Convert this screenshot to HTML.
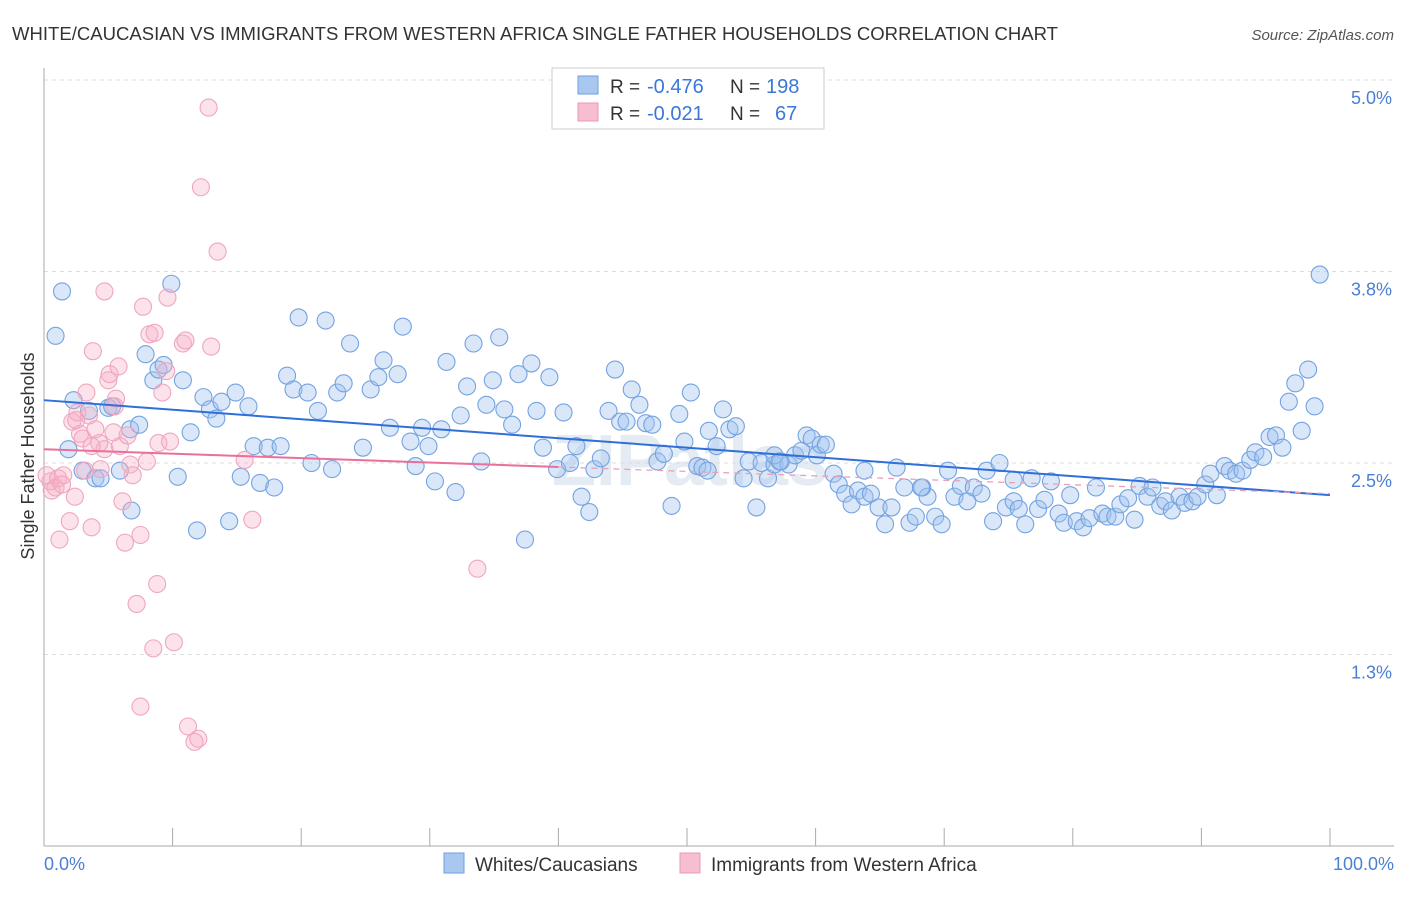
<!DOCTYPE html>
<html><head><meta charset="utf-8"><style>
body{margin:0;background:#fff;font-family:"Liberation Sans",sans-serif}
svg text{font-family:"Liberation Sans",sans-serif}
</style></head><body>
<svg width="1406" height="892">
<text x="12" y="40" font-size="18" fill="#333" textLength="1046" lengthAdjust="spacingAndGlyphs">WHITE/CAUCASIAN VS IMMIGRANTS FROM WESTERN AFRICA SINGLE FATHER HOUSEHOLDS CORRELATION CHART</text>
<text x="1394" y="40" font-size="15" fill="#555" text-anchor="end" font-style="italic">Source: ZipAtlas.com</text>
<text x="690" y="485" font-size="72" fill="#e4ebf3" text-anchor="middle" font-weight="bold">ZIPatlas</text>
<g id="grid"></g><g id="axes"></g><g id="pts"></g><g id="lines"></g>
<text transform="translate(34,456) rotate(-90)" font-size="18" fill="#333" text-anchor="middle">Single Father Households</text>
<text x="44" y="870" font-size="18" fill="#4a7fd4">0.0%</text>
<text x="1394" y="870" font-size="18" fill="#4a7fd4" text-anchor="end">100.0%</text>
<g>
<rect x="552" y="68" width="272" height="61" fill="#fff" stroke="#ccc"/>
<rect x="578" y="76" width="20" height="18" fill="#a9c8f0" stroke="#6f9fdc"/>
<rect x="578" y="103" width="20" height="18" fill="#f7bdd0" stroke="#ec98b4"/>
<text x="610" y="93" font-size="19" fill="#333">R =</text>
<text x="647" y="93" font-size="20" fill="#3a78d8">-0.476</text>
<text x="730" y="93" font-size="19" fill="#333">N =</text>
<text x="766" y="93" font-size="20" fill="#3a78d8">198</text>
<text x="610" y="120" font-size="19" fill="#333">R =</text>
<text x="647" y="120" font-size="20" fill="#3a78d8">-0.021</text>
<text x="730" y="120" font-size="19" fill="#333">N =</text>
<text x="775" y="120" font-size="20" fill="#3a78d8">67</text>
</g>
<g>
<rect x="444" y="853" width="20" height="20" fill="#a9c8f0" stroke="#6f9fdc"/>
<text x="475" y="871" font-size="19" fill="#333">Whites/Caucasians</text>
<rect x="680" y="853" width="20" height="20" fill="#f7bdd0" stroke="#ec98b4"/>
<text x="711" y="871" font-size="19" fill="#333">Immigrants from Western Africa</text>
</g>
</svg>
<script>
const yTicks=[5.0,3.75,2.5,1.25];
const yTickLabels=["5.0%","3.8%","2.5%","1.3%"];
const xTicks=[0,10,20,30,40,50,60,70,80,90,100];
const blueX=[1.4,0.9,2.3,3.5,1.9,3.0,4.0,4.4,5.0,5.3,6.7,7.4,6.8,5.9,7.9,8.5,8.9,9.3,9.9,10.8,10.4,11.4,11.9,12.4,12.9,13.4,13.8,14.4,14.9,15.3,15.9,16.3,16.8,17.4,17.9,18.4,18.9,19.4,19.8,20.5,20.8,21.3,21.9,22.4,22.8,23.3,23.8,24.8,25.4,26.0,26.4,26.9,27.5,27.9,28.5,28.9,29.4,29.9,30.4,30.9,31.3,32.0,32.4,32.9,33.4,34.0,34.4,34.9,35.4,35.8,36.4,36.9,37.4,37.9,38.3,38.8,39.3,39.9,40.4,40.9,41.4,41.8,42.4,42.8,43.3,43.9,44.4,44.8,45.3,45.7,46.3,46.8,47.3,47.7,48.2,48.8,49.4,49.8,50.3,50.8,51.2,51.7,52.3,52.8,53.3,53.8,54.4,54.8,55.4,55.8,56.3,56.8,57.3,57.9,58.4,58.9,59.3,59.7,60.1,60.4,60.8,61.4,61.8,62.3,62.8,63.3,63.8,64.3,64.9,65.4,65.9,66.3,66.9,67.3,67.8,68.3,68.7,69.3,69.8,70.3,70.8,71.3,71.8,72.3,72.9,73.3,73.8,74.3,74.8,75.4,75.8,76.3,76.8,77.3,77.8,78.3,78.9,79.3,79.8,80.3,80.8,81.3,81.8,82.3,82.7,83.3,83.7,84.3,84.8,85.2,85.8,86.2,86.8,87.2,87.7,88.3,88.7,89.3,89.7,90.3,90.7,91.2,91.8,92.2,92.7,93.2,93.8,94.2,94.8,95.3,95.8,96.3,96.8,97.3,97.8,98.3,98.8,99.2,56.8,57.2,63.8,75.4,68.2,51.6];
const blueY=[3.62,3.33,2.91,2.84,2.59,2.45,2.40,2.40,2.86,2.87,2.72,2.75,2.19,2.45,3.21,3.04,3.11,3.14,3.67,3.04,2.41,2.70,2.06,2.93,2.85,2.79,2.90,2.12,2.96,2.41,2.87,2.61,2.37,2.60,2.34,2.61,3.07,2.98,3.45,2.96,2.50,2.84,3.43,2.46,2.96,3.02,3.28,2.60,2.98,3.06,3.17,2.73,3.08,3.39,2.64,2.48,2.73,2.61,2.38,2.72,3.16,2.31,2.81,3.00,3.28,2.51,2.88,3.04,3.32,2.85,2.75,3.08,2.00,3.15,2.84,2.60,3.06,2.46,2.83,2.50,2.61,2.28,2.18,2.46,2.53,2.84,3.11,2.77,2.77,2.98,2.88,2.76,2.75,2.51,2.56,2.22,2.82,2.64,2.96,2.48,2.47,2.71,2.61,2.85,2.72,2.74,2.40,2.51,2.21,2.50,2.40,2.49,2.51,2.49,2.55,2.58,2.68,2.66,2.55,2.62,2.62,2.43,2.36,2.30,2.23,2.32,2.28,2.30,2.21,2.10,2.21,2.47,2.34,2.11,2.15,2.34,2.28,2.15,2.10,2.45,2.28,2.35,2.25,2.34,2.30,2.45,2.12,2.50,2.21,2.25,2.20,2.10,2.40,2.20,2.26,2.38,2.17,2.11,2.29,2.12,2.08,2.14,2.34,2.17,2.15,2.15,2.23,2.27,2.13,2.35,2.28,2.34,2.22,2.25,2.19,2.28,2.24,2.25,2.28,2.36,2.43,2.29,2.48,2.45,2.43,2.45,2.52,2.57,2.54,2.67,2.68,2.60,2.90,3.02,2.71,3.11,2.87,3.73,2.55,2.51,2.45,2.39,2.34,2.45];
const pinkX=[0.2,0.6,0.5,0.9,1.1,1.2,1.5,2.0,2.2,2.4,2.6,2.8,3.0,3.3,3.5,3.7,3.8,4.0,4.3,4.4,4.7,5.0,5.1,5.4,5.6,5.8,5.9,6.1,6.3,6.5,6.7,6.9,7.2,7.5,7.5,7.7,8.0,8.2,8.5,8.6,8.8,8.9,9.2,9.5,9.6,9.8,10.1,10.8,11.0,11.2,11.7,12.0,12.2,12.8,13.0,13.5,15.6,16.2,33.7,3.2,1.4,2.5,4.7,3.7,5.5];
const pinkY=[2.42,2.32,2.38,2.34,2.40,2.00,2.42,2.12,2.77,2.28,2.83,2.69,2.66,2.96,2.81,2.08,3.23,2.72,2.63,2.46,3.62,3.04,3.08,2.70,2.92,3.13,2.61,2.25,1.98,2.68,2.49,2.42,1.58,0.91,2.03,3.52,2.51,3.34,1.29,3.35,1.71,2.63,2.96,3.10,3.58,2.64,1.33,3.28,3.30,0.78,0.68,0.70,4.30,4.82,3.26,3.88,2.52,2.13,1.81,2.45,2.36,2.78,2.59,2.61,2.87];
const blueTrend=[2.91,2.29];
const pinkTrend=[2.59,2.30];
const pinkSolidEnd=40;
const NS="http://www.w3.org/2000/svg";
const X0=44,X1=1330,Y0=846,PPY=153.2;
function sx(v){return X0+(X1-X0)*v/100;}
function sy(v){return Y0-v*PPY;}
function mk(tag,attrs,parent){const e=document.createElementNS(NS,tag);for(const k in attrs)e.setAttribute(k,attrs[k]);document.getElementById(parent).appendChild(e);return e;}
yTicks.forEach((t,i)=>{
 const l=mk('line',{x1:X0,x2:1394,y1:sy(t),y2:sy(t),stroke:'#ddd','stroke-dasharray':'4,4'},'grid');
 
 
 const tx=mk('text',{x:1392,y:sy(t)+24,'font-size':18,fill:'#4a7fd4','text-anchor':'end'},'grid');
 tx.textContent=yTickLabels[i];
 
 
});
const ax=mk('line',{x1:X0,x2:X0,y1:68,y2:Y0,stroke:'#aaa'},'axes');


const bx=mk('line',{x1:X0,x2:1394,y1:Y0,y2:Y0,stroke:'#aaa'},'axes');


xTicks.forEach(t=>{
 const l=mk('line',{x1:sx(t),x2:sx(t),y1:828,y2:Y0,stroke:'#aaa'},'axes');
 
 
});
blueX.forEach((x,i)=>{
 const c=mk('circle',{cx:sx(x),cy:sy(blueY[i]),r:8.5,fill:'rgba(160,196,240,0.4)',stroke:'#74a3e0','stroke-width':1.1},'pts');
 
 
});
pinkX.forEach((x,i)=>{
 const c=mk('circle',{cx:sx(x),cy:sy(pinkY[i]),r:8.5,fill:'rgba(245,175,198,0.35)',stroke:'#f0a6be','stroke-width':1.1},'pts');
 
 
});
const bl=mk('line',{x1:sx(0),y1:sy(blueTrend[0]),x2:sx(100),y2:sy(blueTrend[1]),stroke:'#2f6fd8','stroke-width':2},'lines');


const pm=pinkTrend[0]+(pinkTrend[1]-pinkTrend[0])*pinkSolidEnd/100;
const pl=mk('line',{x1:sx(0),y1:sy(pinkTrend[0]),x2:sx(pinkSolidEnd),y2:sy(pm),stroke:'#e8709a','stroke-width':2},'lines');


const pd=mk('line',{x1:sx(pinkSolidEnd),y1:sy(pm),x2:sx(100),y2:sy(pinkTrend[1]),stroke:'#e8a0b8','stroke-width':1.3,'stroke-dasharray':'6,5'},'lines');


</script>
</body></html>
